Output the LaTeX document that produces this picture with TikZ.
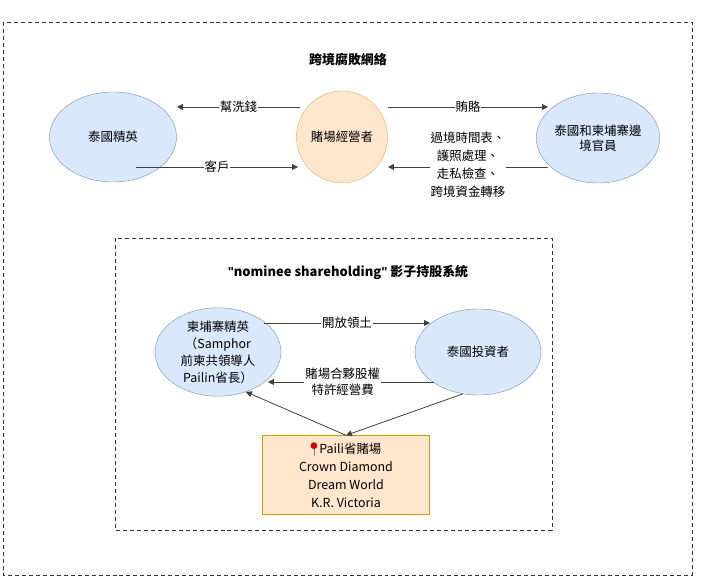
\documentclass[tikz,border=0pt]{standalone}
\usepackage{fontspec}
\setmainfont{Noto Sans CJK TC}
\newfontfamily\latinfont{Liberation Sans}
\usetikzlibrary{positioning, arrows.meta, shapes.geometric}
\definecolor{lightblue}{HTML}{DAE8FC}
\definecolor{blueline}{HTML}{6C8EBF}
\definecolor{lightorange}{HTML}{FFE6CC}
\definecolor{orangeline}{HTML}{D79B00}
\definecolor{yellowline}{HTML}{D6B656}
\newcommand{\pinmark}{\tikz[baseline=0pt]{\draw[gray, line width=0.6pt] (0,0.8ex) -- (0,-0.3ex); \fill[red!85!black] (0,1.2ex) circle (0.5ex);}\,}
\begin{document}
\begin{tikzpicture}[
    x=1bp, y=-1bp,
    >={Triangle[length=6pt,width=6pt]},
    font=\fontsize{12.5}{15}\selectfont,
    blueell/.style={ellipse, draw=blueline, fill=lightblue, inner sep=0pt},
    orangeell/.style={ellipse, draw=yellowline, fill=lightorange, inner sep=0pt},
    link/.style={->, draw=black!75, line width=0.8pt},
    lbl/.style={fill=white, inner sep=1pt, align=center},
    frame/.style={draw=black!80, dashed, dash pattern=on 4pt off 3pt}
  ]
  \useasboundingbox (0,0) rectangle (720,578);

  % --- FRAMES ---
  \draw[frame] (3,22) rectangle (692,575);
  \draw[frame] (115,238) rectangle (552,530);
  \node[font=\bfseries\fontsize{13}{15}\selectfont] (title) at (348,60) {跨境腐敗網絡};
  \node[font=\bfseries\fontsize{13}{15}\selectfont] (subtitle) at (348,272) {{\latinfont\symbol{34}}nominee shareholding{\latinfont\symbol{34}} 影子持股系統};

  % --- UPPER NETWORK ---
  \node[blueell, minimum width=127bp, minimum height=90bp] (elite) at (113,137) {泰國精英};
  \node[orangeell, minimum width=91bp, minimum height=92bp] (operator) at (342,137) {賭場經營者};
  \node[blueell, minimum width=100bp, minimum height=90bp, align=center] (officials) at (598,138) {泰國和柬埔寨邊\\境官員};

  \draw[link] (300,107) -- node[lbl] {幫洗錢} (177,107);
  \draw[link] (388,107) -- node[lbl] {賄賂} (548,107);
  \draw[link] (136,167) -- node[lbl] {客戶} (298,167);
  \draw[link] (548,167) -- (388,167);
  \node[lbl, font=\fontsize{12.5}{18}\selectfont] (services) at (468,165) {過境時間表、\\護照處理、\\走私檢查、\\跨境資金轉移};

  % --- NOMINEE SYSTEM ---
  \node[blueell, minimum width=126bp, minimum height=84bp, align=center, font=\fontsize{12.5}{17}\selectfont] (khmer) at (218,352) {柬埔寨精英\\（Samphor\\前柬共領導人\\Pailin省長）};
  \node[blueell, minimum width=126bp, minimum height=86bp] (investor) at (478,352) {泰國投資者};
  \node[draw=orangeline, fill=lightorange, minimum width=167bp, minimum height=79bp, align=center, inner sep=2pt, font=\fontsize{12.5}{18}\selectfont] (casino) at (346,475) {\pinmark Paili省賭場\\Crown Diamond\\Dream World\\K.R. Victoria};

  \draw[link] (264,323) -- node[lbl] {開放領土} (430,323);
  \draw[link] (434,382) -- node[lbl, pos=0.55, font=\fontsize{12.5}{16}\selectfont] {賭場合夥股權\\特許經營費} (268,382);
  \draw[link] (investor.250) -- (casino.north);
  \draw[link] (casino.north) -- (khmer.-55);
\end{tikzpicture}
\end{document}
